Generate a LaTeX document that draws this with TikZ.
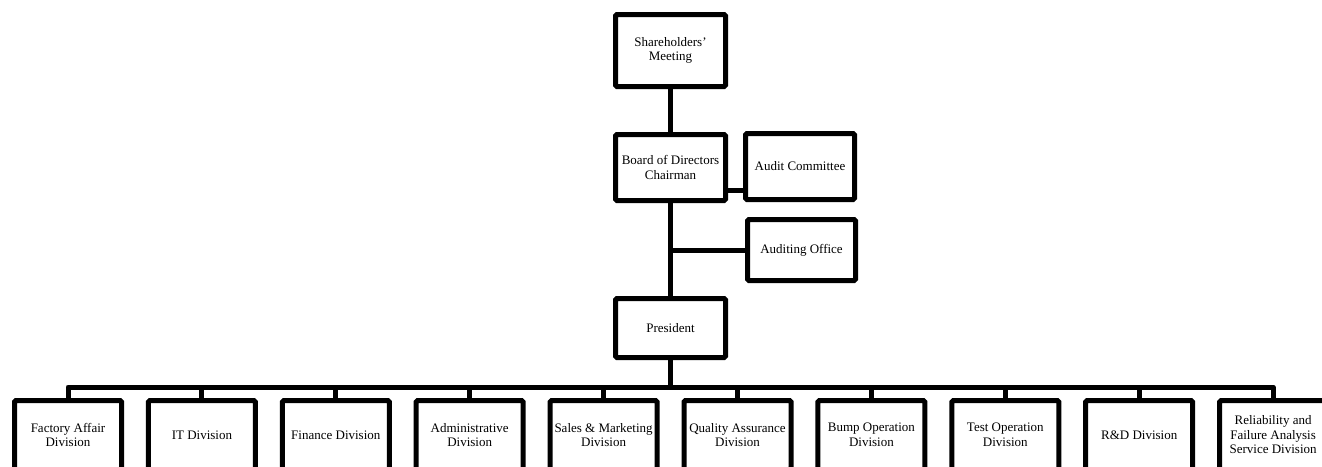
\documentclass[tikz,border=0pt]{standalone}
\usepackage{fontspec}
\setmainfont{Liberation Serif}
\begin{document}
\begin{tikzpicture}[x=1pt,y=-1pt,
  box/.style={draw=black, line width=5pt, rounded corners=1.5pt, align=center,
    inner sep=0pt, font=\fontsize{13}{14.5}\selectfont},
  conn/.style={draw=black, line width=5pt},
  div/.style={box, minimum width=107pt, minimum height=69pt}]
\useasboundingbox (0,0) rectangle (1322,466);
\clip (0,0) rectangle (1322,466);
\node[box, minimum width=110pt, minimum height=72pt] (share) at (670.5,50.5) {Shareholders\symbol{39}\\Meeting};
\node[box, minimum width=110pt, minimum height=66pt] (board) at (670.5,167.5) {Board of Directors\\Chairman};
\node[box, minimum width=109pt, minimum height=66pt] (audit) at (800,166.5) {Audit Committee};
\node[box, minimum width=108pt, minimum height=61pt] (office) at (801.5,250) {Auditing Office};
\node[box, minimum width=110pt, minimum height=59pt] (pres) at (670.5,328) {President};
\foreach \i/\t in {0/{Factory Affair\\Division},1/{IT Division},2/{Finance Division},3/{Administrative\\Division},4/{Sales \& Marketing\\Division},5/{Quality Assurance\\Division},6/{Bump Operation\\Division},7/{Test Operation\\Division},8/{R\&D Division},9/{Reliability and\\Failure Analysis\\Service Division}}{
  \node[div] (d\i) at ({68+\i*133.9},435) {\t};
}
\coordinate (stub) at (0,190.5);
\coordinate (bus) at (0,387);
\draw[conn] (share.south) -- (board.north);
\draw[conn] (board.south) -- (pres.north);
\draw[conn] (board.east |- stub) -- (audit.west |- stub);
\draw[conn] (office.west) -- (office.west -| board.south);
\draw[conn] (pres.south) -- (pres.south |- bus);
\draw[conn, line join=round] (d0.north) -- (d0.north |- bus) -- (d9.north |- bus) -- (d9.north);
\foreach \i in {1,...,8}{
  \draw[conn] (d\i.north) -- (d\i.north |- bus);
}
\end{tikzpicture}
\end{document}
